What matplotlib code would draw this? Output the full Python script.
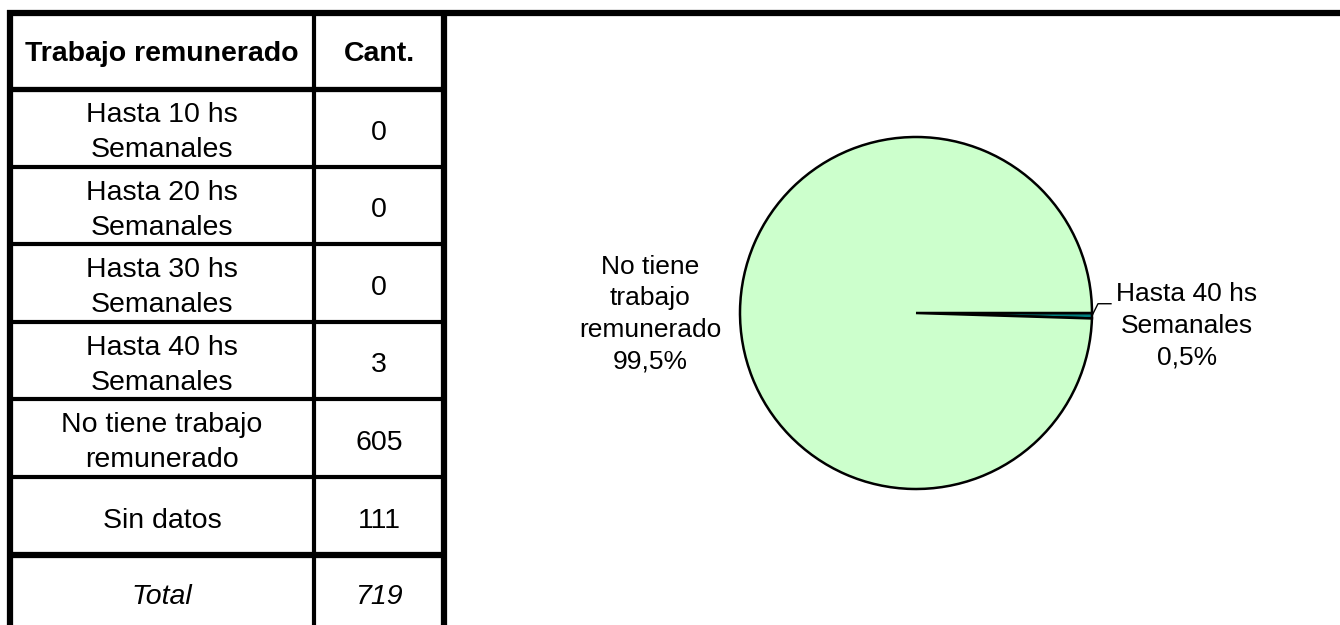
import matplotlib.pyplot as plt
import numpy as np

plt.rcParams['font.family'] = ['Liberation Sans', 'DejaVu Sans']

encabezado = ['Trabajo remunerado', 'Cant.']
categorias = ['Hasta 10 hs\nSemanales', 'Hasta 20 hs\nSemanales', 'Hasta 30 hs\nSemanales',
              'Hasta 40 hs\nSemanales', 'No tiene trabajo\nremunerado', 'Sin datos']
cantidades = [0, 0, 0, 3, 605, 111]
total = 719

# la torta solo usa las categorias con valor (sin "Sin datos")
torta_idx = [3, 4]
torta_etiquetas = ['Hasta 40 hs\nSemanales', 'No tiene\ntrabajo\nremunerado']
torta_colores = ['#008080', '#CCFFCC']

W, H = 1340, 625
fig = plt.figure(figsize=(W / 100, H / 100), dpi=100)
ax = fig.add_axes([0, 0, 1, 1])
ax.set_xlim(0, W)
ax.set_ylim(H, 0)
ax.axis('off')


def lineas(x, yc, texto, paso, size, cap_px=None, **kw):
    filas = texto.split('\n')
    cap = cap_px if cap_px else 0.716 * size * 100 / 72
    for i, f in enumerate(filas):
        y = yc + (i - (len(filas) - 1) / 2) * paso
        ax.text(x, y + cap / 2, f, ha='center', va='baseline', fontsize=size, **kw)


# ---- tabla ----
x_izq, x_div, x_der = 10, 314, 444
bordes = [13, 89, 167, 244, 322, 399, 477, 555, 640]
fs = 20.5
paso_tabla = 35

ax.plot([x_izq - 3, W], [bordes[0], bordes[0]], color='k', lw=4.5, solid_capstyle='butt')
ax.vlines([x_izq, x_der], 10, H, color='k', lw=4.5)
ax.vlines([x_div], bordes[0], H, color='k', lw=3)
for i, yb in enumerate(bordes[1:-1]):
    grosor = 3
    if i == 0:
        grosor = 3.8
    if yb == bordes[-2]:
        grosor = 4.5
    ax.hlines(yb, x_izq, x_der, color='k', lw=grosor)

c1 = (x_izq + x_div) / 2
c2 = (x_div + x_der) / 2
lineas(c1, 51, encabezado[0], paso_tabla, fs, fontweight='bold')
lineas(c2, 51, encabezado[1], paso_tabla, fs, fontweight='bold')

for i, (cat, val) in enumerate(zip(categorias, cantidades)):
    ym = (bordes[i + 1] + bordes[i + 2]) / 2 + 1.5
    lineas(c1, ym, cat, paso_tabla, fs)
    lineas(c2, ym, str(val), paso_tabla, fs)

lineas(c1, 593.5, 'Total', paso_tabla, fs, style='italic')
lineas(c2, 593.5, str(total), paso_tabla, fs, style='italic')

# ---- torta ----
cx, cy, r = 916, 313, 176
pax = fig.add_axes([(cx - r) / W, 1 - (cy + r) / H, 2 * r / W, 2 * r / H])
vals = [cantidades[i] for i in torta_idx]
wedges, _ = pax.pie(vals, colors=torta_colores, startangle=0, counterclock=False,
                    wedgeprops=dict(edgecolor='k', linewidth=1.8))
pax.set_xlim(-1, 1)
pax.set_ylim(-1, 1)
for w in wedges:
    w.set_clip_on(False)

pct = [v / sum(vals) * 100 for v in vals]
txt = [e + '\n' + f'{p:.1f}'.replace('.', ',') + '%' for e, p in zip(torta_etiquetas, pct)]

paso_torta = 31.5
lineas(1187, 323.5, txt[0], paso_torta, 19)
lineas(650, 311.5, txt[1], paso_torta, 19)

# linea guia de la porcion chica
th = np.deg2rad((wedges[0].theta1 + wedges[0].theta2) / 2)
x0 = cx + r * np.cos(th)
y0 = cy - r * np.sin(th)
ax.plot([x0, x0 + 6, x0 + 19], [y0, y0 - 12, y0 - 12], color='k', lw=1)

fig.savefig('out.png', dpi=100)
